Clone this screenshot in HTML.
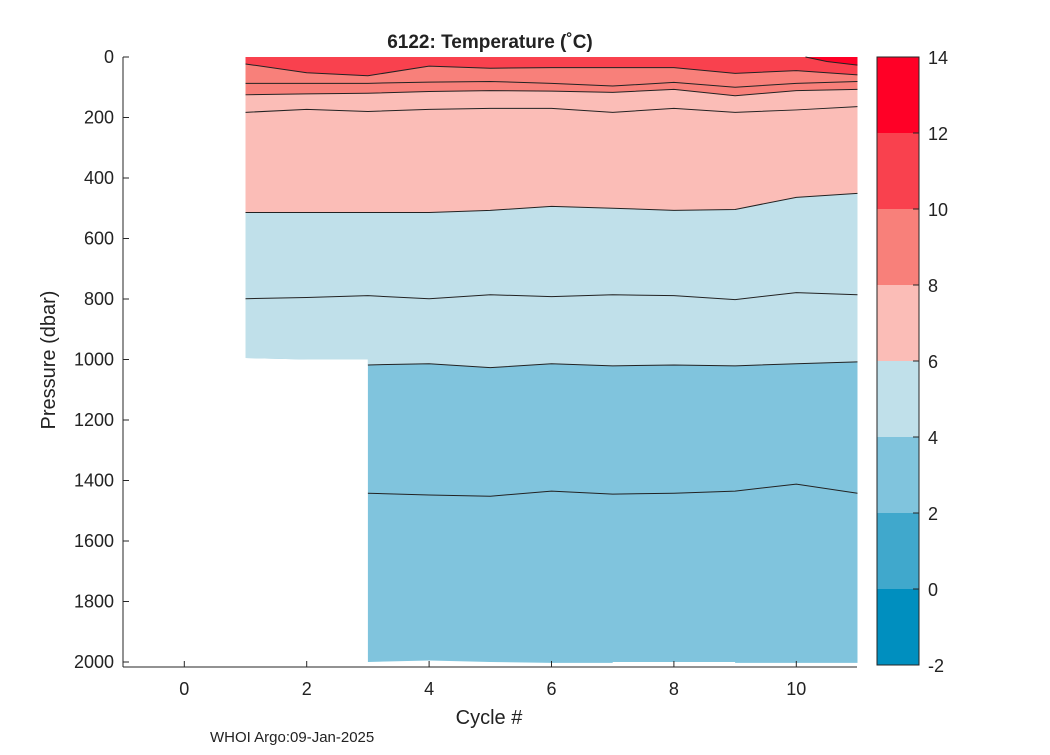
<!DOCTYPE html>
<html><head><meta charset="utf-8"><style>
body{margin:0;background:#fff}
svg text{font-family:"Liberation Sans",Helvetica,Arial,sans-serif;fill:#222}
</style></head><body>
<svg id="chart" width="1050" height="750" xmlns="http://www.w3.org/2000/svg">
<g id="plot"></g>
<g id="axes"></g>
<g id="cbar"></g>
<text x="490" y="48" font-size="19" font-weight="bold" text-anchor="middle">6122:  Temperature (˚C)</text>
<text x="489" y="724" font-size="20" text-anchor="middle">Cycle #</text>
<text transform="translate(55,360) rotate(-90)" font-size="20" text-anchor="middle">Pressure (dbar)</text>
<text x="210" y="742" font-size="15">WHOI Argo:09-Jan-2025</text>
</svg>
<script>
const cycles=[1,2,3,4,5,6,7,8,9,10,11];
const c10=[23,52,62,30,37,35,35,35,54,45,59];
const c9=[87,87,87,83,81,87,96,84,100,87,81];
const c8=[125,122,120,114,111,113,117,107,128,111,107];
const c7=[183,173,180,173,170,170,183,170,183,175,164];
const c6=[514,514,514,514,507,494,500,507,504,464,451];
const c5=[799,795,789,799,786,792,786,789,802,779,786];
const c4=[null,null,1018,1014,1027,1014,1021,1018,1021,1014,1008];
const c3=[null,null,1442,1448,1452,1435,1445,1442,1435,1412,1442];
const bottomX=[1,2,3,3,4,5,6,7,7,9,9,11];
const bottomP=[995,1000,1000,2000,1995,2000,2003,2003,2000,2000,2003,2003];
const c12X=[10.15,10.5,11];
const c12P=[0,15,27];
const xTicks=[0,2,4,6,8,10];
const yTicks=[0,200,400,600,800,1000,1200,1400,1600,1800,2000];
const cLevels=[-2,0,2,4,6,8,10,12,14];
const cColors=["#008fbf","#40a8cc","#80c4dd","#c0e0ea","#fbbdb7","#f8807a","#f9414e","#ff0026"];

const NS="http://www.w3.org/2000/svg";
const X=c=>184.3+(c)*61.2;
const Y=p=>57+p*0.3025;
function mk(tag,attrs,parent){const e=document.createElementNS(NS,tag);for(const k in attrs)e.setAttribute(k,attrs[k]);parent.appendChild(e);return e;}
const plot=document.getElementById('plot');
let pts=[[X(1),Y(0)],[X(11),Y(0)]];
for(let i=bottomX.length-1;i>=0;i--)pts.push([X(bottomX[i]),Y(bottomP[i])]);
let e=mk('polygon',{points:pts.map(p=>p.join(',')).join(' '),fill:cColors[2]},plot);


function bottomLeft(c){for(let i=bottomX.length-1;i>0;i--){if(c>bottomX[i-1]&&c<=bottomX[i]&&bottomX[i]!==bottomX[i-1])return bottomP[i];}return bottomP[0];}
function band(arr,color,name){
 let p=[[X(1),Y(0)],[X(11),Y(0)]];
 for(let i=cycles.length-1;i>=0;i--){
  let v=arr[i];
  if(v===null){p.push([X(cycles[i]),Y(bottomLeft(cycles[i]))]);continue;}
  p.push([X(cycles[i]),Y(v)]);
  if(i>0&&arr[i-1]===null)p.push([X(cycles[i]),Y(bottomLeft(cycles[i]))]);
 }
 const el=mk('polygon',{points:p.map(q=>q.join(',')).join(' '),fill:color},plot);
 
 
}
band(c4,cColors[3],'band-4-6');
band(c6,cColors[4],'band-6-8');
band(c8,cColors[5],'band-8-10');
band(c10,cColors[6],'band-10-12');
{let p=[[X(c12X[0]),Y(0)],[X(11),Y(0)]];for(let i=c12X.length-1;i>=0;i--)p.push([X(c12X[i]),Y(c12P[i])]);
 const el=mk('polygon',{points:p.map(q=>q.join(',')).join(' '),fill:cColors[7]},plot);
 
 
 const l=mk('polyline',{points:c12X.map((c,i)=>X(c)+','+Y(c12P[i])).join(' '),fill:'none',stroke:'#222','stroke-width':1},plot);
 
 }
[[c10,10],[c9,9],[c8,8],[c7,7],[c6,6],[c5,5],[c4,4],[c3,3]].forEach(([arr,lv])=>{
 const p=[];cycles.forEach((c,i)=>{if(arr[i]!==null)p.push(X(c)+','+Y(arr[i]));});
 const l=mk('polyline',{points:p.join(' '),fill:'none',stroke:'#222','stroke-width':1},plot);
 
 
});
const ax=document.getElementById('axes');
mk('line',{x1:123,y1:57,x2:123,y2:667,stroke:'#262626','stroke-width':1},ax);
mk('line',{x1:123,y1:667,x2:857,y2:667,stroke:'#262626','stroke-width':1},ax);
xTicks.forEach(t=>{mk('line',{x1:X(t),y1:667,x2:X(t),y2:661,stroke:'#262626'},ax);
 const tx=mk('text',{x:X(t),y:695,'font-size':18,'text-anchor':'middle'},ax);tx.textContent=t;
 
 });
yTicks.forEach(t=>{mk('line',{x1:123,y1:Y(t),x2:129,y2:Y(t),stroke:'#262626'},ax);
 const tx=mk('text',{x:114,y:Y(t)+6,'font-size':18,'text-anchor':'end'},ax);tx.textContent=t;
 
 });
const cb=document.getElementById('cbar');
const CY=v=>665-(v+2)*38;
for(let i=0;i<cColors.length;i++){
 const r=mk('rect',{x:877,y:CY(cLevels[i+1]),width:42,height:CY(cLevels[i])-CY(cLevels[i+1]),fill:cColors[i]},cb);
 
 
}
mk('rect',{x:877,y:57,width:42,height:608,fill:'none',stroke:'#262626'},cb);
cLevels.forEach(v=>{mk('line',{x1:913,y1:CY(v),x2:919,y2:CY(v),stroke:'#262626'},cb);
 const tx=mk('text',{x:928,y:CY(v)+7,'font-size':18},cb);tx.textContent=v;
 
 });
</script>
</body></html>
